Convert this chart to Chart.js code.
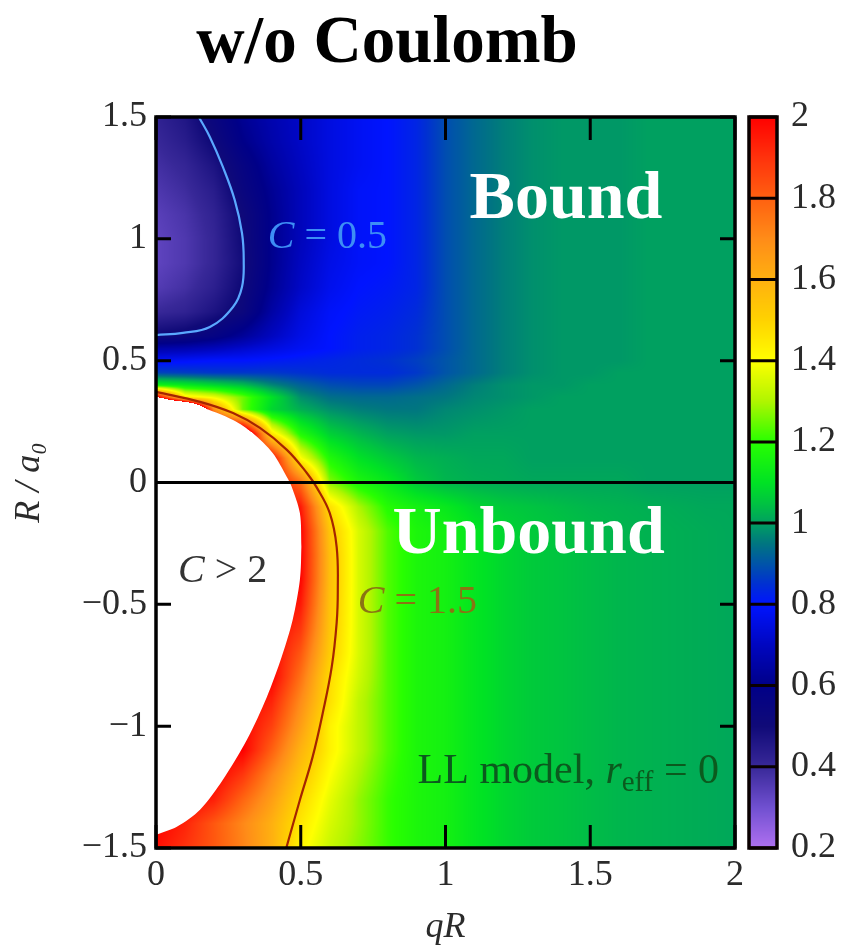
<!DOCTYPE html>
<html>
<head>
<meta charset="utf-8">
<script src="https://cdn.jsdelivr.net/npm/chart.js@4.4.1/dist/chart.umd.min.js"></script>
<style>
  html, body { margin: 0; padding: 0; background: #ffffff; }
  #wrap { width: 843px; height: 949px; }
  canvas { display: block; }
</style>
</head>
<body>
<div id="wrap"><canvas id="c" width="843" height="949"></canvas></div>
<script>
// Grid of the correlation function C(qR, R/a0) in the LL model with r_eff = 0
const qRGrid = [0, 0.1, 0.2, 0.3, 0.4, 0.5, 0.6, 0.7, 0.8, 0.9, 1.0, 1.1, 1.2, 1.3, 1.4, 1.5, 1.6, 1.7, 1.8, 1.9, 2.0];
const RGrid = [1.5, 1.4, 1.3, 1.2, 1.1, 1.0, 0.9, 0.8, 0.7, 0.6, 0.55, 0.5, 0.45, 0.4, 0.35, 0.3, 0.2, 0.1, 0,
               -0.1, -0.2, -0.3, -0.4, -0.5, -0.6, -0.7, -0.8, -0.9, -1.0, -1.1, -1.2, -1.3, -1.4, -1.5];
// one row per R/a0 value, one entry per qR column
const cGrid = [
  [0.42,0.46,0.54,0.62,0.67,0.71,0.75,0.78,0.80,0.83,0.89,0.93,0.96,0.98,0.99,0.99,0.99,1.00,1.00,1.00,1.00], //  1.5
  [0.40,0.44,0.51,0.60,0.66,0.71,0.75,0.78,0.80,0.83,0.89,0.93,0.96,0.98,0.99,0.99,0.99,1.00,1.00,1.00,1.00], //  1.4
  [0.38,0.41,0.47,0.56,0.64,0.70,0.75,0.78,0.80,0.83,0.89,0.93,0.96,0.98,0.99,0.99,0.99,1.00,1.00,1.00,1.00], //  1.3
  [0.36,0.39,0.44,0.54,0.62,0.69,0.75,0.79,0.80,0.83,0.89,0.93,0.96,0.98,0.99,0.99,0.99,1.00,1.00,1.00,1.00], //  1.2
  [0.34,0.37,0.42,0.51,0.61,0.69,0.75,0.79,0.80,0.83,0.89,0.93,0.96,0.98,0.99,0.99,0.99,1.00,1.00,1.00,1.00], //  1.1
  [0.33,0.36,0.41,0.505,0.61,0.69,0.75,0.79,0.80,0.83,0.89,0.93,0.96,0.98,0.99,0.99,0.99,1.00,1.00,1.00,1.00], // 1.0
  [0.33,0.36,0.41,0.495,0.61,0.70,0.76,0.79,0.80,0.83,0.89,0.93,0.96,0.98,0.99,0.99,0.99,1.00,1.00,1.00,1.00], // 0.9
  [0.35,0.38,0.43,0.51,0.62,0.71,0.77,0.80,0.81,0.83,0.89,0.93,0.96,0.98,0.99,0.99,0.99,1.00,1.00,1.00,1.00], //  0.8
  [0.40,0.42,0.47,0.53,0.65,0.74,0.79,0.81,0.82,0.84,0.89,0.93,0.96,0.98,0.99,0.99,0.99,1.00,1.00,1.00,1.00], //  0.7
  [0.51,0.53,0.57,0.63,0.70,0.76,0.80,0.82,0.83,0.85,0.89,0.93,0.96,0.98,0.99,0.99,0.99,1.00,1.00,1.00,1.00], //  0.6
  [0.66,0.67,0.69,0.72,0.75,0.78,0.80,0.82,0.83,0.85,0.89,0.93,0.96,0.98,0.99,0.99,0.99,1.00,1.00,1.00,1.00], //  0.55
  [0.78,0.79,0.80,0.80,0.81,0.82,0.83,0.84,0.85,0.87,0.90,0.93,0.96,0.98,0.99,0.99,0.99,1.00,1.00,1.00,1.00], //  0.5
  [0.88,0.87,0.86,0.86,0.86,0.85,0.84,0.84,0.84,0.86,0.90,0.93,0.96,0.98,0.99,0.99,1.00,1.00,1.00,1.00,1.00], //  0.45
  [1.15,1.12,1.08,1.04,0.97,0.92,0.89,0.88,0.88,0.90,0.93,0.96,0.98,0.99,0.99,1.00,1.00,1.00,1.00,1.00,1.00], //  0.4
  [2.05,1.45,1.38,1.25,1.10,0.98,0.94,0.93,0.93,0.94,0.95,0.97,0.98,0.99,1.00,1.00,1.00,1.00,1.00,1.00,1.00], //  0.35
  [2.90,2.90,1.70,1.25,1.08,1.02,0.98,0.96,0.95,0.95,0.97,0.98,0.99,1.00,1.00,1.00,1.00,1.00,1.00,1.00,1.00], //  0.3
  [2.30,2.30,2.30,2.30,1.45,1.18,1.07,1.03,1.00,0.99,0.99,1.00,1.00,1.00,1.00,1.00,1.00,1.00,1.00,1.00,1.00], //  0.2
  [2.00,2.00,2.00,2.00,2.00,1.40,1.18,1.10,1.06,1.03,1.02,1.01,1.01,1.00,1.00,1.00,1.00,1.00,1.00,1.00,1.00], //  0.1
  [2.00,2.00,2.00,2.00,2.00,1.77,1.27,1.17,1.12,1.06,1.03,1.02,1.015,1.01,1.01,1.01,1.01,1.00,1.00,1.00,1.00], //  0
  [2.00,2.00,2.00,2.00,2.00,1.95,1.47,1.30,1.19,1.15,1.12,1.08,1.06,1.05,1.04,1.03,1.025,1.02,1.015,1.01,1.01], // -0.1
  [2.00,2.00,2.00,2.00,2.00,2.00,1.54,1.35,1.23,1.17,1.15,1.11,1.08,1.06,1.05,1.04,1.03,1.025,1.02,1.015,1.01], // -0.2
  [2.00,2.00,2.00,2.00,2.00,2.00,1.56,1.35,1.23,1.17,1.15,1.11,1.08,1.06,1.05,1.04,1.03,1.025,1.02,1.015,1.01], // -0.3
  [2.00,2.00,2.00,2.00,2.00,1.99,1.56,1.35,1.23,1.17,1.15,1.11,1.08,1.06,1.05,1.04,1.03,1.025,1.02,1.015,1.01], // -0.4
  [2.00,2.00,2.00,2.00,2.00,1.95,1.55,1.35,1.23,1.17,1.15,1.11,1.08,1.06,1.05,1.04,1.03,1.025,1.02,1.015,1.01], // -0.5
  [2.00,2.00,2.00,2.00,2.00,1.89,1.54,1.35,1.23,1.17,1.15,1.11,1.08,1.06,1.05,1.04,1.03,1.025,1.02,1.015,1.01], // -0.6
  [2.00,2.00,2.00,2.00,2.00,1.82,1.52,1.35,1.23,1.17,1.15,1.11,1.08,1.06,1.05,1.04,1.03,1.025,1.02,1.015,1.01], // -0.7
  [2.00,2.00,2.00,2.00,2.00,1.76,1.48,1.34,1.23,1.17,1.15,1.11,1.08,1.06,1.05,1.04,1.03,1.025,1.02,1.015,1.01], // -0.8
  [2.00,2.00,2.00,2.00,1.93,1.70,1.47,1.32,1.23,1.17,1.15,1.11,1.08,1.06,1.05,1.04,1.03,1.025,1.02,1.015,1.01], // -0.9
  [2.00,2.00,2.00,2.00,1.87,1.65,1.43,1.32,1.23,1.17,1.15,1.11,1.08,1.06,1.05,1.04,1.03,1.025,1.02,1.015,1.01], // -1.0
  [2.00,2.00,2.00,2.00,1.80,1.59,1.43,1.32,1.23,1.17,1.15,1.11,1.08,1.06,1.05,1.04,1.03,1.025,1.02,1.015,1.01], // -1.1
  [2.00,2.00,2.00,1.89,1.71,1.54,1.40,1.30,1.22,1.17,1.15,1.11,1.08,1.06,1.05,1.04,1.03,1.025,1.02,1.015,1.01], // -1.2
  [2.00,2.00,1.94,1.79,1.65,1.49,1.37,1.28,1.21,1.17,1.15,1.11,1.08,1.06,1.05,1.04,1.03,1.025,1.02,1.015,1.01], // -1.3
  [2.00,1.93,1.82,1.71,1.60,1.45,1.35,1.28,1.21,1.17,1.15,1.11,1.08,1.06,1.05,1.04,1.03,1.025,1.02,1.015,1.01], // -1.4
  [1.97,1.90,1.82,1.72,1.60,1.42,1.33,1.27,1.21,1.17,1.15,1.11,1.08,1.06,1.05,1.04,1.03,1.025,1.02,1.015,1.01]  // -1.5
];

// Tick values and labels
const xTickValues = [0, 0.5, 1, 1.5, 2];
const xTickLabels = ['0', '0.5', '1', '1.5', '2'];
const yTickValues = [-1.5, -1, -0.5, 0, 0.5, 1, 1.5];
const yTickLabels = ['\u22121.5', '\u22121', '\u22120.5', '0', '0.5', '1', '1.5'];
const cbTickValues = [0.2, 0.4, 0.6, 0.8, 1.0, 1.2, 1.4, 1.6, 1.8, 2.0];
const cbTickLabels = ['0.2', '0.4', '0.6', '0.8', '1', '1.2', '1.4', '1.6', '1.8', '2'];

// Contour C = 0.5 (bound side)
const contour05QR = [0, 0.093, 0.186, 0.266, 0.297, 0.303, 0.297, 0.272, 0.231, 0.186, 0.148];
const contour05R  = [0.605, 0.614, 0.638, 0.72, 0.802, 0.913, 1.024, 1.159, 1.295, 1.418, 1.5];
// Contour C = 1.5
const contour15QR = [0, 0.152, 0.266, 0.359, 0.452, 0.521, 0.555, 0.600, 0.624, 0.628, 0.624, 0.607, 0.576, 0.541, 0.497, 0.45];
const contour15R  = [0.372, 0.331, 0.285, 0.224, 0.134, 0.039, -0.02, -0.125, -0.264, -0.441, -0.576, -0.757, -0.946, -1.126, -1.303, -1.5];
// Edge of the C > 2 region: upper and lower branches
const whiteTopQR = [0, 0.152, 0.266, 0.334, 0.403, 0.452, 0.469, 0.497, 0.503];
const whiteTopR  = [0.347, 0.31, 0.257, 0.203, 0.121, 0.023, -0.018, -0.125, -0.264];
const whiteBotQR = [0, 0.072, 0.152, 0.231, 0.314, 0.383, 0.434, 0.472, 0.497, 0.503];
const whiteBotR  = [-1.446, -1.413, -1.343, -1.22, -1.056, -0.88, -0.716, -0.564, -0.40, -0.264];
// Horizontal divider between bound and unbound
const dividerQR = [0, 2];
const dividerR  = [0, 0];

// Colour scale (value, r, g, b)
const cmapStops = [
  [0.2, 176, 112, 240], [0.3, 112, 80, 208], [0.4, 56, 40, 152], [0.5, 16, 10, 120],
  [0.6, 0, 0, 136], [0.7, 0, 6, 192], [0.8, 0, 20, 255], [0.85, 0, 48, 210],
  [0.9, 0, 84, 168], [0.95, 0, 118, 128], [1.0, 0, 160, 96], [1.05, 0, 196, 64],
  [1.1, 0, 226, 36], [1.2, 40, 255, 0], [1.3, 176, 245, 0], [1.4, 255, 255, 0],
  [1.5, 255, 210, 0], [1.6, 255, 176, 16], [1.7, 255, 140, 24], [1.8, 255, 96, 16],
  [1.9, 255, 50, 12], [2.0, 255, 0, 0]
];

function cmap(v) {
  if (v > 2.0001) return [255, 255, 255];
  if (v <= cmapStops[0][0]) return cmapStops[0].slice(1);
  for (let i = 1; i < cmapStops.length; i++) {
    if (v <= cmapStops[i][0]) {
      const a = cmapStops[i - 1], b = cmapStops[i];
      const t = (v - a[0]) / (b[0] - a[0]);
      return [a[1] + t * (b[1] - a[1]), a[2] + t * (b[2] - a[2]), a[3] + t * (b[3] - a[3])];
    }
  }
  return cmapStops[cmapStops.length - 1].slice(1);
}

function locate(arr, v, descending) {
  const n = arr.length;
  for (let i = 0; i < n - 1; i++) {
    const lo = arr[i], hi = arr[i + 1];
    const inside = descending ? (v <= lo && v >= hi) : (v >= lo && v <= hi);
    if (inside) return [i, (v - lo) / (hi - lo)];
  }
  if (descending ? v > arr[0] : v < arr[0]) return [0, 0];
  return [n - 2, 1];
}

const toPoints = (xs, ys) => xs.map((q, i) => ({ x: q, y: ys[i] }));

// Smooth colour map of the grid, placed through the chart scales
const heatmapPlugin = {
  id: 'heatmap',
  beforeDatasetsDraw(chart) {
    const { ctx, chartArea: a, scales } = chart;
    const xs = scales.x, ys = scales.y;
    const w = Math.round(a.right - a.left), h = Math.round(a.bottom - a.top);
    const off = document.createElement('canvas');
    off.width = w; off.height = h;
    const octx = off.getContext('2d');
    const img = octx.createImageData(w, h);
    const ci = [], ct = [], ri = [], rt = [];
    for (let px = 0; px < w; px++) {
      const [i, t] = locate(qRGrid, xs.getValueForPixel(a.left + px + 0.5), false);
      ci.push(i); ct.push(t);
    }
    for (let py = 0; py < h; py++) {
      const [j, u] = locate(RGrid, ys.getValueForPixel(a.top + py + 0.5), true);
      ri.push(j); rt.push(u);
    }
    let k = 0;
    for (let py = 0; py < h; py++) {
      const r0 = cGrid[ri[py]], r1 = cGrid[ri[py] + 1], u = rt[py];
      for (let px = 0; px < w; px++) {
        const i = ci[px], t = ct[px];
        const top = r0[i] * (1 - t) + r0[i + 1] * t;
        const bot = r1[i] * (1 - t) + r1[i + 1] * t;
        const c = cmap(top * (1 - u) + bot * u);
        img.data[k++] = c[0]; img.data[k++] = c[1]; img.data[k++] = c[2]; img.data[k++] = 255;
      }
    }
    octx.putImageData(img, 0, 0);
    ctx.drawImage(off, a.left, a.top);
  }
};

function drawRuns(ctx, runs, x, y, align) {
  let total = 0;
  runs.forEach(r => { ctx.font = r.font; total += ctx.measureText(r.t).width; });
  let cx = align === 'right' ? x - total : x;
  ctx.textAlign = 'left';
  ctx.textBaseline = 'alphabetic';
  runs.forEach(r => {
    ctx.font = r.font;
    ctx.fillText(r.t, cx, y + (r.dy || 0));
    cx += ctx.measureText(r.t).width;
  });
}

const SERIF = '"Liberation Serif", "DejaVu Serif", serif';

// Frame, inward ticks, colour bar, labels and title
const decorPlugin = {
  id: 'decor',
  afterDatasetsDraw(chart) {
    const { ctx, chartArea: a, scales } = chart;
    const xs = scales.x, ys = scales.y, cb = scales.cb;
    ctx.save();

    // annotations inside the map
    ctx.fillStyle = '#ffffff';
    drawRuns(ctx, [{ t: 'Bound', font: 'bold 68px ' + SERIF }], xs.getPixelForValue(1.083), ys.getPixelForValue(1.086));
    drawRuns(ctx, [{ t: 'Unbound', font: 'bold 68px ' + SERIF }], xs.getPixelForValue(0.817), ys.getPixelForValue(-0.289));
    ctx.fillStyle = '#3d8ef5';
    drawRuns(ctx, [{ t: 'C', font: 'italic 40px ' + SERIF }, { t: ' = 0.5', font: '40px ' + SERIF }],
      xs.getPixelForValue(0.386), ys.getPixelForValue(0.962));
    ctx.fillStyle = '#8a7414';
    drawRuns(ctx, [{ t: 'C', font: 'italic 40px ' + SERIF }, { t: ' = 1.5', font: '40px ' + SERIF }],
      xs.getPixelForValue(0.697), ys.getPixelForValue(-0.535));
    ctx.fillStyle = '#333333';
    drawRuns(ctx, [{ t: 'C', font: 'italic 40px ' + SERIF }, { t: ' > 2', font: '40px ' + SERIF }],
      xs.getPixelForValue(0.076), ys.getPixelForValue(-0.408));
    ctx.fillStyle = '#0b5a1e';
    drawRuns(ctx, [
      { t: 'LL model, ', font: '42px ' + SERIF },
      { t: 'r', font: 'italic 42px ' + SERIF },
      { t: 'eff', font: '29px ' + SERIF, dy: 8 },
      { t: ' = 0', font: '42px ' + SERIF }
    ], xs.getPixelForValue(1.945), ys.getPixelForValue(-1.233), 'right');

    // inward tick marks on all four sides
    ctx.strokeStyle = '#000000';
    ctx.lineWidth = 3;
    ctx.beginPath();
    xTickValues.forEach(v => {
      const px = xs.getPixelForValue(v);
      ctx.moveTo(px, a.bottom); ctx.lineTo(px, a.bottom - 23);
      ctx.moveTo(px, a.top); ctx.lineTo(px, a.top + 23);
    });
    yTickValues.forEach(v => {
      const py = ys.getPixelForValue(v);
      ctx.moveTo(a.left, py); ctx.lineTo(a.left + 15, py);
      ctx.moveTo(a.right, py); ctx.lineTo(a.right - 15, py);
    });
    ctx.stroke();
    ctx.lineWidth = 3.5;
    ctx.strokeRect(a.left, a.top, a.right - a.left, a.bottom - a.top);

    // colour bar
    const bx0 = a.right + 14, bx1 = a.right + 42;
    for (let py = Math.floor(cb.top); py < Math.ceil(cb.bottom); py++) {
      const c = cmap(Math.min(cb.getValueForPixel(py + 0.5), 2));
      ctx.fillStyle = 'rgb(' + Math.round(c[0]) + ',' + Math.round(c[1]) + ',' + Math.round(c[2]) + ')';
      ctx.fillRect(bx0, py, bx1 - bx0, 1);
    }
    ctx.strokeStyle = '#0a0000';
    ctx.lineWidth = 3;
    ctx.beginPath();
    cbTickValues.forEach(v => {
      const py = cb.getPixelForValue(v);
      ctx.moveTo(bx0, py); ctx.lineTo(bx1, py);
    });
    ctx.stroke();
    ctx.lineWidth = 3.5;
    ctx.strokeRect(bx0, cb.top, bx1 - bx0, cb.bottom - cb.top);

    // title
    ctx.fillStyle = '#000000';
    ctx.font = 'bold 67px ' + SERIF;
    ctx.textAlign = 'center';
    ctx.textBaseline = 'alphabetic';
    ctx.fillText('w/o Coulomb', 387, 62);
    ctx.restore();
  }
};

const tickFont = { family: SERIF, size: 36 };
const tickColor = '#2b2b2b';

new Chart(document.getElementById('c'), {
  type: 'line',
  data: {
    datasets: [
      { // C > 2 region, filled between its upper and lower edge
        data: toPoints(whiteTopQR, whiteTopR), fill: '+1', backgroundColor: '#ffffff',
        borderWidth: 0, pointRadius: 0, tension: 0.3, xAxisID: 'x', yAxisID: 'y', order: 4
      },
      {
        data: toPoints(whiteBotQR, whiteBotR), fill: false,
        borderWidth: 0, pointRadius: 0, tension: 0.3, xAxisID: 'x', yAxisID: 'y', order: 4
      },
      { // C = 0.5 contour
        data: toPoints(contour05QR, contour05R), fill: false, borderColor: '#5aa8ff',
        borderWidth: 2.2, pointRadius: 0, tension: 0.4, xAxisID: 'x', yAxisID: 'y', order: 2
      },
      { // C = 1.5 contour
        data: toPoints(contour15QR, contour15R), fill: false, borderColor: '#a52400',
        borderWidth: 2.2, pointRadius: 0, tension: 0.4, xAxisID: 'x', yAxisID: 'y', order: 2
      },
      { // R / a0 = 0 divider
        data: toPoints(dividerQR, dividerR), fill: false, borderColor: '#000000',
        borderWidth: 3, pointRadius: 0, xAxisID: 'x', yAxisID: 'y', order: 1
      }
    ]
  },
  options: {
    responsive: false,
    animation: false,
    devicePixelRatio: 1,
    layout: { padding: { top: 117, left: 0, right: 0, bottom: 0 } },
    plugins: { legend: { display: false }, tooltip: { enabled: false }, title: { display: false } },
    scales: {
      x: {
        type: 'linear', position: 'bottom', min: 0, max: 2,
        afterBuildTicks: s => { s.ticks = xTickValues.map(v => ({ value: v })); },
        afterFit: s => { s.height = 101; },
        grid: { display: false, drawTicks: false },
        border: { display: false },
        ticks: { padding: 6, color: tickColor, font: tickFont, maxRotation: 0, autoSkip: false,
                 callback: (v, i) => xTickLabels[i] },
        title: { display: true, text: 'qR', color: tickColor,
                 font: { family: SERIF, size: 36, style: 'italic' }, padding: { top: 0, bottom: 0 } }
      },
      y: {
        type: 'linear', position: 'left', min: -1.5, max: 1.5,
        afterBuildTicks: s => { s.ticks = yTickValues.map(v => ({ value: v })); },
        afterFit: s => { s.width = 156; },
        grid: { display: false, drawTicks: false },
        border: { display: false },
        ticks: { padding: 9, color: tickColor, font: tickFont, autoSkip: false,
                 callback: (v, i) => yTickLabels[i] },
        title: { display: true, text: 'R / a\u2080', color: tickColor,
                 font: { family: SERIF, size: 36, style: 'italic' }, padding: { top: 8, bottom: 0 } }
      },
      cb: {
        type: 'linear', position: 'right', axis: 'y', min: 0.2, max: 2,
        afterBuildTicks: s => { s.ticks = cbTickValues.map(v => ({ value: v })); },
        afterFit: s => { s.width = 108; },
        grid: { display: false, drawTicks: false },
        border: { display: false },
        ticks: { padding: 56, color: tickColor, font: tickFont, autoSkip: false,
                 callback: (v, i) => cbTickLabels[i] }
      }
    }
  },
  plugins: [heatmapPlugin, decorPlugin]
});
</script>
</body>
</html>
